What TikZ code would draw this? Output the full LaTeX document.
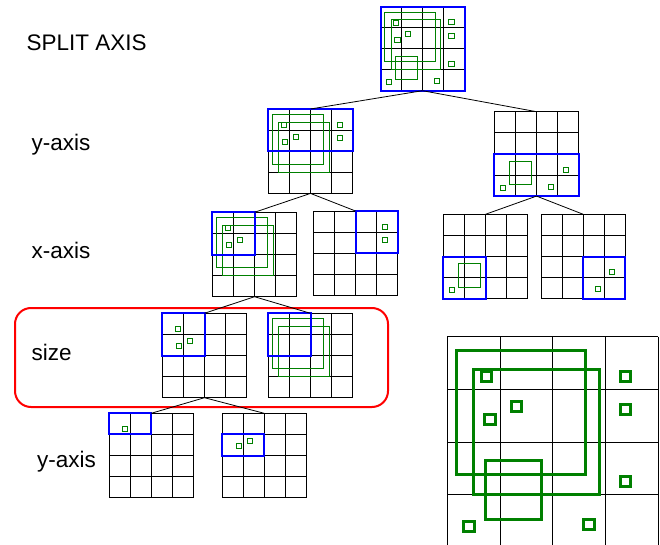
\documentclass[tikz,border=0pt]{standalone}
\usepackage{fontspec}
\setmainfont{Liberation Sans}
\definecolor{objgreen}{RGB}{0,128,0}
\definecolor{cellblue}{RGB}{0,0,255}
\definecolor{bandred}{RGB}{255,0,0}
\tikzset{
  cellline/.style={black, line width=0.9pt},
  obj/.style={draw=objgreen, line width=1pt},
  bigobj/.style={draw=objgreen, line width=3pt},
  region/.style={draw=cellblue, line width=2pt},
  branch/.style={black, line width=0.8pt},
  axislabel/.style={font=\fontsize{22.5}{26}\selectfont, anchor=base west, inner sep=0},
}
% 4x4 cell grid: name, left x, top y, cell size (pt), contents in cell units
\newcommand{\cellgrid}[5]{%
  \node[inner sep=0, outer sep=0, anchor=north west, minimum size=4*#4 pt] (#1) at (#2,#3) {};
  \begin{scope}[shift={(#2,#3)}, x=#4 pt, y=-#4 pt]
    \foreach \k in {0,...,4} {
      \draw[cellline] (\k,0) -- (\k,4);
      \draw[cellline] (0,\k) -- (4,\k);
    }
    #5
  \end{scope}}
% objects, in cell units
\newcommand{\sqA}[1]{\draw[#1] (0.18,0.27) rectangle (2.62,2.62);}
\newcommand{\sqB}[1]{\draw[#1] (0.50,0.63) rectangle (2.88,3.00);}
\newcommand{\sqC}[1]{\draw[#1] (0.72,2.35) rectangle (1.78,3.47);}
\def\hs{0.12}
\newcommand{\smallsq}[3]{\draw[#1] ({#2-\hs},{#3-\hs}) rectangle ({#2+\hs},{#3+\hs});}
\newcommand{\markA}[1]{\smallsq{#1}{0.75}{0.76}}
\newcommand{\markB}[1]{\smallsq{#1}{1.31}{1.32}}
\newcommand{\markC}[1]{\smallsq{#1}{0.81}{1.57}}
\newcommand{\markD}[1]{\smallsq{#1}{3.38}{0.75}}
\newcommand{\markE}[1]{\smallsq{#1}{3.38}{1.38}}
\newcommand{\markF}[1]{\smallsq{#1}{3.38}{2.75}}
\newcommand{\markG}[1]{\smallsq{#1}{0.41}{3.60}}
\newcommand{\markH}[1]{\smallsq{#1}{2.69}{3.56}}
\begin{document}
\begin{tikzpicture}[x=1pt, y=-1pt]
\useasboundingbox (0,0) rectangle (660,545);

% level labels
\node[axislabel] (lsplit) at (26.5,50.7) {SPLIT AXIS};
\node[axislabel] (ly1) at (31.5,151) {y-axis};
\node[axislabel] (lx) at (31.5,258) {x-axis};
\node[axislabel] (lsize) at (31.5,360) {size};
\node[axislabel] (ly2) at (37,467) {y-axis};

% band around the size level
\node[draw=bandred, line width=2pt, rounded corners=16pt, inner sep=0,
      minimum width=373pt, minimum height=99pt, anchor=north west]
      (sizeband) at (14,307) {};

% root
\cellgrid{root}{380.5}{6.7}{21}{%
  \sqA{obj}\sqB{obj}\sqC{obj}
  \markA{obj}\markB{obj}\markC{obj}\markD{obj}\markE{obj}\markF{obj}\markG{obj}\markH{obj}
  \draw[region] (0,0) rectangle (4,4);}

% y-axis split
\cellgrid{ya}{268.3}{109}{21.1}{%
  \sqA{obj}\sqB{obj}
  \markA{obj}\markB{obj}\markC{obj}\markD{obj}\markE{obj}
  \draw[region] (0,0) rectangle (4,2);}
\cellgrid{yb}{494.3}{111.7}{21.1}{%
  \sqC{obj}\markF{obj}\markG{obj}\markH{obj}
  \draw[region] (0,2) rectangle (4,4);}

% x-axis split
\cellgrid{xa}{212.3}{212.3}{21.1}{%
  \sqA{obj}\sqB{obj}\markA{obj}\markB{obj}\markC{obj}
  \draw[region] (0,0) rectangle (2,2);}
\cellgrid{xb}{313.3}{211}{21.1}{%
  \markD{obj}\markE{obj}
  \draw[region] (2,0) rectangle (4,2);}
\cellgrid{xc}{443.3}{214.3}{21.1}{%
  \sqC{obj}\markG{obj}
  \draw[region] (0,2) rectangle (2,4);}
\cellgrid{xd}{541}{214.3}{21.1}{%
  \markF{obj}\markH{obj}
  \draw[region] (2,2) rectangle (4,4);}

% size split
\cellgrid{sa}{162.3}{313.3}{21.1}{%
  \markA{obj}\markB{obj}\markC{obj}
  \draw[region] (0,0) rectangle (2,2);}
\cellgrid{sb}{268.3}{313.3}{21.1}{%
  \sqA{obj}\sqB{obj}
  \draw[region] (0,0) rectangle (2,2);}

% second y-axis split
\cellgrid{za}{109}{413.3}{21.1}{%
  \markA{obj}
  \draw[region] (0,0) rectangle (2,1);}
\cellgrid{zb}{222}{413.3}{21.1}{%
  \markB{obj}\markC{obj}
  \draw[region] (0,1) rectangle (2,2);}

% enlarged view of the root cell
\def\hs{0.098}
\cellgrid{zoomgrid}{447.3}{336.7}{52.7}{%
  \sqA{bigobj}\sqB{bigobj}\sqC{bigobj}
  \markA{bigobj}\markB{bigobj}\markC{bigobj}\markD{bigobj}
  \markE{bigobj}\markF{bigobj}\markG{bigobj}\markH{bigobj}}

% tree branches
\draw[branch] (root.south) -- (ya.north);
\draw[branch] (root.south) -- (yb.north);
\draw[branch] (ya.south) -- (xa.north);
\draw[branch] (ya.south) -- (xb.north);
\draw[branch] (yb.south) -- (xc.north);
\draw[branch] (yb.south) -- (xd.north);
\draw[branch] (xa.south) -- (sa.north);
\draw[branch] (xa.south) -- (sb.north);
\draw[branch] (sa.south) -- (za.north);
\draw[branch] (sa.south) -- (zb.north);
\end{tikzpicture}
\end{document}
